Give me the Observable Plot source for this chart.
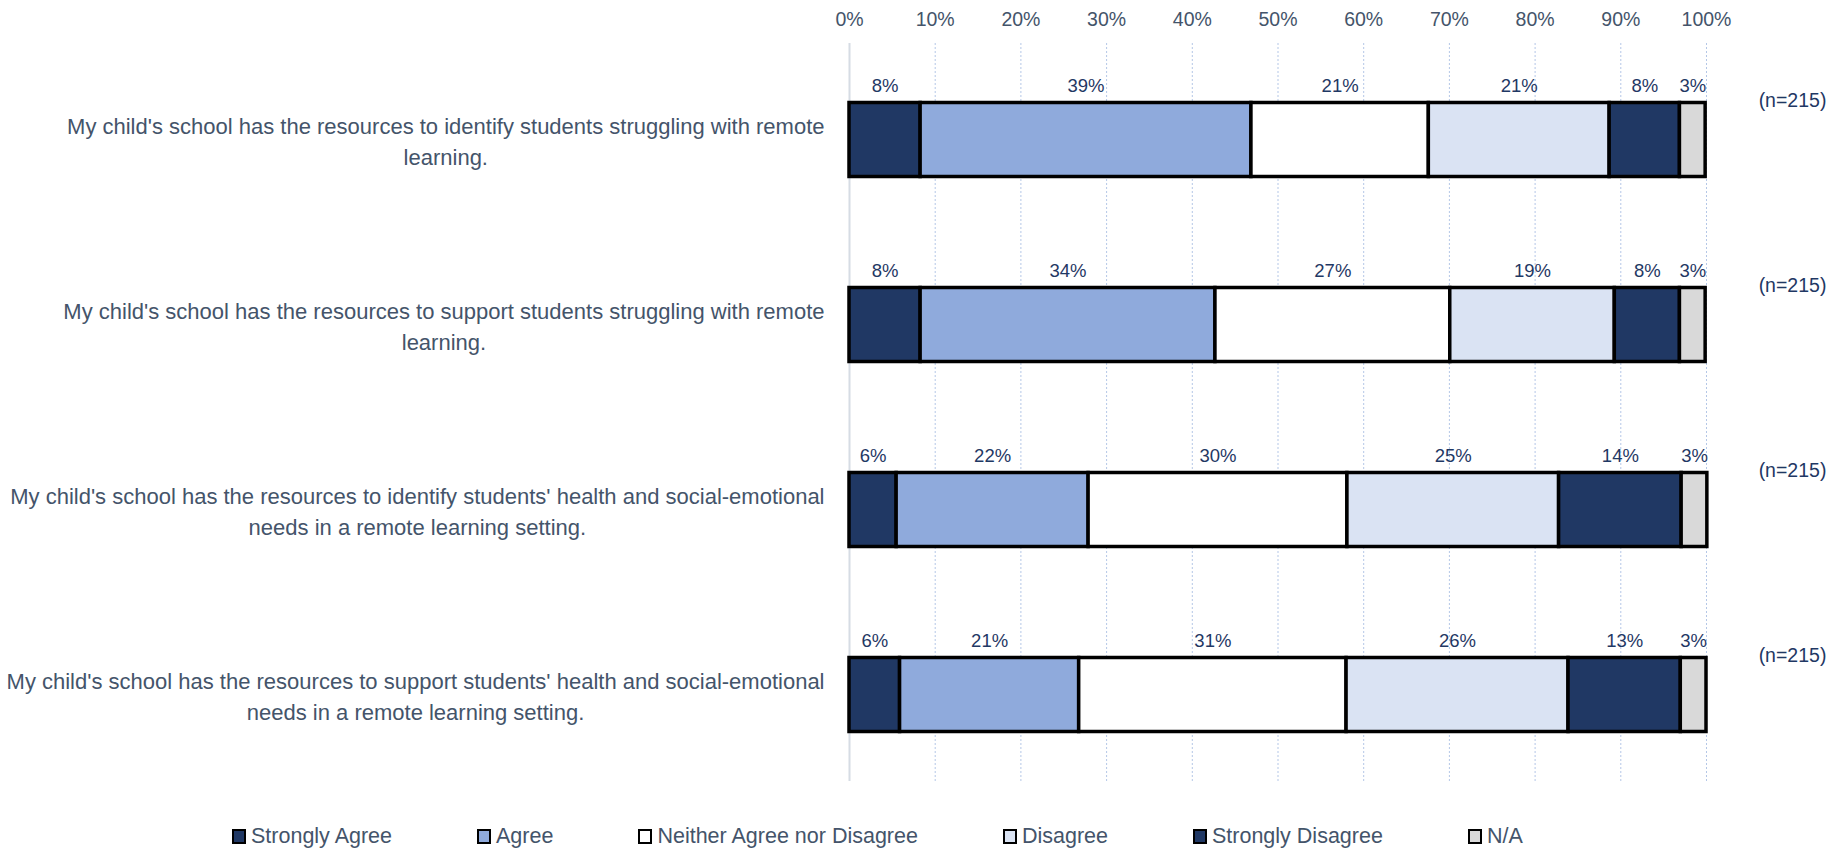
<!DOCTYPE html>
<html>
<head>
<meta charset="utf-8">
<script src="https://cdn.jsdelivr.net/npm/d3@7"></script>
<script src="https://cdn.jsdelivr.net/npm/@observablehq/plot@0.6"></script>
<style>
  html, body { margin: 0; padding: 0; background: #fff; }
  body { width: 1833px; height: 852px; overflow: hidden; font-family: "Liberation Sans", Arial, sans-serif; }
  #chart svg { display: block; }
  #legend { display: flex; align-items: center; gap: 85px; padding-left: 232px; height: 32px; font-size: 21.5px; color: #44546A; }
  #legend .item { display: flex; align-items: center; }
  #legend .sw { width: 10px; height: 11px; border: 2px solid #000; margin-right: 5px; }
</style>
</head>
<body>
<div id="chart"></div>
<div id="legend"></div>
<script>
// ---- data ----
const categories = ["Strongly Agree", "Agree", "Neither Agree nor Disagree", "Disagree", "Strongly Disagree", "N/A"];
const palette = ["#203864", "#8FAADC", "#FFFFFF", "#DAE3F3", "#203864", "#D9D9D9"];
const questions = [
  "My child's school has the resources to identify students struggling with remote\nlearning.",
  "My child's school has the resources to support students struggling with remote\nlearning.",
  "My child's school has the resources to identify students' health and social-emotional\nneeds in a remote learning setting.",
  "My child's school has the resources to support students' health and social-emotional\nneeds in a remote learning setting."
];
const sampleSizes = [215, 215, 215, 215];
const stronglyAgree    = [8.3, 8.3, 5.5, 5.9];
const agree            = [38.6, 34.4, 22.4, 20.9];
const neither          = [20.7, 27.4, 30.2, 31.2];
const disagree         = [21.1, 19.2, 24.7, 25.9];
const stronglyDisagree = [8.2, 7.6, 14.3, 13.1];
const notApplicable    = [3.0, 3.0, 3.0, 3.0];
const xTicks = [0, 10, 20, 30, 40, 50, 60, 70, 80, 90, 100];

const series = [stronglyAgree, agree, neither, disagree, stronglyDisagree, notApplicable];
const rows = [];
questions.forEach((q, qi) => {
  categories.forEach((c, ci) => rows.push({question: q, category: c, value: series[ci][qi]}));
});

const W = 1833, H = 820;
const textColor = "#44546A";
const valueColor = "#1F3864";

const plot = Plot.plot({
  width: W,
  height: H,
  marginLeft: 849,
  marginRight: 127,
  marginTop: 43,
  marginBottom: H - 781,
  style: {fontFamily: "'Liberation Sans', Arial, sans-serif", background: "#fff"},
  x: {domain: [0, 100]},
  y: {domain: questions, range: [46.5, 786.5], padding: 0, axis: null},
  color: {domain: categories, range: palette},
  marks: [
    Plot.ruleX(xTicks.filter(d => d > 0), {stroke: "#B4C7E7", strokeWidth: 1, strokeDasharray: "2,2"}),
    Plot.ruleX([0], {stroke: "#D6DCE4", strokeWidth: 2}),
    Plot.axisX({anchor: "top", ticks: xTicks, tickFormat: d => d + "%", tickSize: 0, tickPadding: 18, fontSize: 19.5, fill: textColor, label: null}),
    Plot.barX(rows, Plot.stackX({x: "value", y: "question", fill: "category", stroke: "#000", strokeWidth: 3.5, insetTop: 55.5, insetBottom: 55.5})),
    Plot.text(rows, Plot.stackX({x: "value", y: "question", z: "category", text: d => Math.round(d.value) + "%", dy: -54, fontSize: 18.5, fill: valueColor})),
    Plot.text(questions, {y: d => d, text: (d, i) => `(n=${sampleSizes[i]})`, frameAnchor: "right", dx: 86, dy: -39, textAnchor: "middle", fontSize: 19.5, fill: valueColor}),
    Plot.text(questions, {y: d => d, text: d => d, frameAnchor: "left", textAnchor: "middle", dx: -25, lineHeight: 1.41, fontSize: 22, fill: textColor, className: "qlabel"})
  ]
});
document.getElementById("chart").appendChild(plot);

// centre each multi-line label within its own block, block right-aligned against the plot
plot.querySelectorAll(".qlabel text").forEach(el => {
  const w = el.getBBox().width;
  el.setAttribute("transform", (el.getAttribute("transform") || "") + ` translate(${-w / 2},0)`);
});

// legend
const legend = document.getElementById("legend");
categories.forEach((c, i) => {
  const item = document.createElement("div");
  item.className = "item";
  const sw = document.createElement("span");
  sw.className = "sw";
  sw.style.background = palette[i];
  const lab = document.createElement("span");
  lab.textContent = c;
  item.appendChild(sw);
  item.appendChild(lab);
  legend.appendChild(item);
});
</script>
</body>
</html>
